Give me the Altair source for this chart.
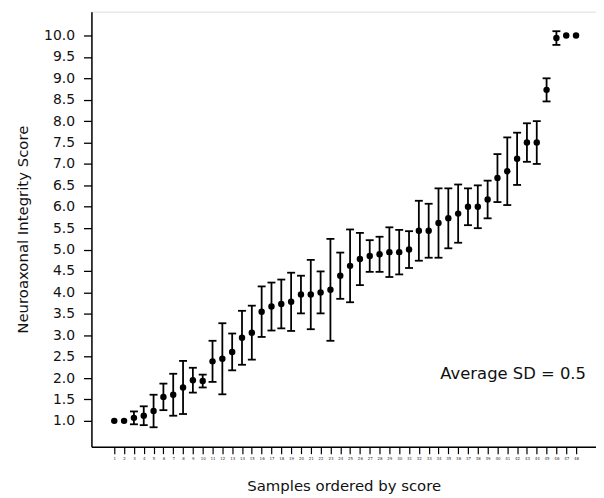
import altair as alt
import pandas as pd

# ---- data ----
sample_rank = list(range(1, 49))
score = [1.00, 1.00, 1.07, 1.12, 1.23, 1.56, 1.61, 1.78, 1.95, 1.93,
         2.39, 2.45, 2.61, 2.94, 3.06, 3.55, 3.67, 3.73, 3.78, 3.95,
         3.95, 4.00, 4.06, 4.39, 4.62, 4.78, 4.85, 4.89, 4.94, 4.94,
         5.00, 5.44, 5.44, 5.62, 5.73, 5.84, 6.00, 6.00, 6.17, 6.67,
         6.83, 7.12, 7.50, 7.50, 8.73, 9.94, 10.00, 10.00]
sd = [0.00, 0.00, 0.15, 0.22, 0.38, 0.31, 0.49, 0.62, 0.29, 0.15,
      0.48, 0.83, 0.43, 0.63, 0.63, 0.59, 0.56, 0.57, 0.68, 0.44,
      0.81, 0.49, 1.19, 0.54, 0.85, 0.61, 0.37, 0.41, 0.58, 0.52,
      0.43, 0.70, 0.63, 0.81, 0.70, 0.68, 0.43, 0.50, 0.44, 0.56,
      0.79, 0.61, 0.45, 0.50, 0.27, 0.16, 0.00, 0.00]
y_ticks = [1.0, 1.5, 2.0, 2.5, 3.0, 3.5, 4.0, 4.5, 5.0, 5.5,
           6.0, 6.5, 7.0, 7.5, 8.0, 8.5, 9.0, 9.5, 10.0]
note_text = ["Average SD = 0.5"]
note_x = [41.6]
note_y = [2.09]

df = pd.DataFrame({"rank": sample_rank, "score": score, "sd": sd})
df["lo"] = df["score"] - df["sd"]
df["hi"] = df["score"] + df["sd"]
note_df = pd.DataFrame({"x": note_x, "y": note_y, "label": note_text})

FONT = "DejaVu Sans"

x_scale = alt.Scale(domain=[-1.3246, 50.03], nice=False, zero=False)
y_scale = alt.Scale(domain=[0.397, 10.557], nice=False, zero=False)

x_axis = alt.Axis(values=sample_rank, grid=False, title="Samples ordered by score",
                  labelFontSize=4, labelColor="#333333", labelPadding=3,
                  tickSize=7, tickWidth=1.2, tickColor="black",
                  domainColor="black", domainWidth=1.5,
                  titleFontSize=15, titleFontWeight="normal", titleColor="#111111",
                  titleY=39, titleBaseline="middle", labelFlush=False,
                  labelOverlap=False)
y_axis = alt.Axis(values=y_ticks, format=".1f", grid=False,
                  title="Neuroaxonal Integrity Score",
                  labelFontSize=14, labelColor="#111111", labelPadding=9,
                  tickSize=8, tickWidth=1.3, tickColor="black",
                  domainColor="black", domainWidth=1.5,
                  titleFontSize=15, titleFontWeight="normal", titleColor="#111111",
                  titleX=-69, titleY=219, titleAngle=270, titleAlign="center",
                  titleBaseline="middle", labelOverlap=False)

X = alt.X("rank:Q", scale=x_scale, axis=x_axis)

bars = alt.Chart(df).transform_filter("datum.sd > 0").mark_rule(
    color="black", strokeWidth=1.8
).encode(x=X, y=alt.Y("lo:Q", scale=y_scale, axis=y_axis), y2="hi:Q")

cap_lo = alt.Chart(df).transform_filter("datum.sd > 0").mark_tick(
    color="black", orient="horizontal", size=8, thickness=1.8, opacity=1
).encode(x=X, y=alt.Y("lo:Q", scale=y_scale, axis=y_axis))

cap_hi = alt.Chart(df).transform_filter("datum.sd > 0").mark_tick(
    color="black", orient="horizontal", size=8, thickness=1.8, opacity=1
).encode(x=X, y=alt.Y("hi:Q", scale=y_scale, axis=y_axis))

points = alt.Chart(df).mark_circle(color="black", size=42, opacity=1).encode(
    x=X, y=alt.Y("score:Q", scale=y_scale, axis=y_axis)
)

note = alt.Chart(note_df).mark_text(
    font=FONT, fontSize=16.5, color="#111111", align="center", baseline="middle"
).encode(
    x=alt.X("x:Q", scale=x_scale, axis=x_axis),
    y=alt.Y("y:Q", scale=y_scale, axis=y_axis),
    text="label:N",
)

chart = alt.layer(bars, cap_lo, cap_hi, points, note).properties(
    width=508, height=438,
    autosize=alt.AutoSizeParams(type="none"),
    padding={"left": 84, "top": 2, "right": 0, "bottom": 50},
).configure_view(stroke=None).configure(font=FONT)

chart.save("out.html", embed_options={"renderer": "svg", "actions": False})
